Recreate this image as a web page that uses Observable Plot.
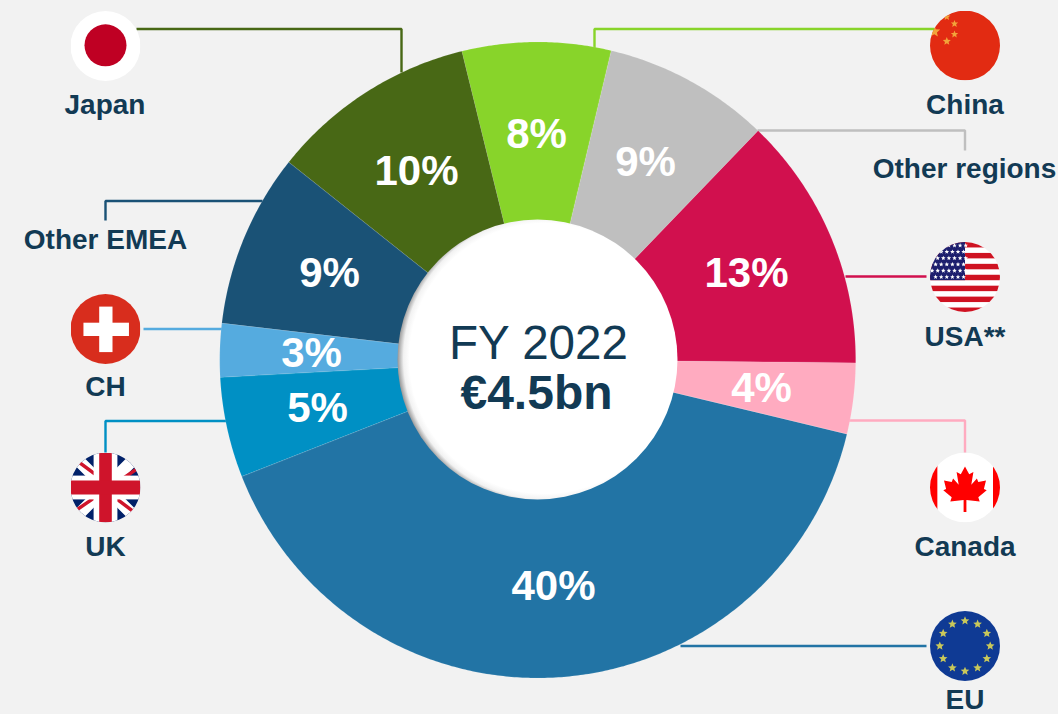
<!DOCTYPE html>
<html>
<head>
<meta charset="utf-8">
<script src="https://cdn.jsdelivr.net/npm/d3@7"></script>
<script src="https://cdn.jsdelivr.net/npm/@observablehq/plot@0.6"></script>
<style>
html,body{margin:0;padding:0;background:#f2f2f2;overflow:hidden}
svg{display:block;background:#f2f2f2}
</style>
</head>
<body>
<div id="chart"></div>
<script>
// ---------- chart values ----------
const regions = ["China","Other regions","USA**","Canada","EU","UK","CH","Other EMEA","Japan"];
const shares = [7.55,8.47,12.95,3.6,40.28,5.1,2.72,8.83,10.47];
const shareLabels = ["8%","9%","13%","4%","40%","5%","3%","9%","10%"];
const sliceColors = ["#88d42a","#bfbfbf","#d1104e","#ffabc0","#2274a5","#0090c4","#55abdf","#1a5276","#486815"];
const centerTitle = "FY 2022";
const centerValue = "€4.5bn";

// ---------- layout ----------
const W = 1058, H = 714;
const cx = 537.2, cy = 359.5, rOuter = 318, rInner = 120, startDeg = -13.8;
const ink = "#123a54";

const percentAt = [[536,134],[645,162],[746,273],[761,388],[553,586],[317,408],[311,353],[329,273],[416,171]];
const regionLabelAt = [[964.5,104.5],[964,168.5],[964.5,336.5],[964.5,546.5],[964.5,700],[105,546.5],[105,386.5],[105,240],[104.5,105]];
const leaderPaths = [
  [[594,48],[594,28.5],[934,28.5]],
  [[757,130],[964.5,130],[964.5,150]],
  [[845,276],[926,276]],
  [[848,420],[964.5,420],[964.5,452]],
  [[680,645.5],[926,645.5]],
  [[226,420.5],[105,420.5],[105,452]],
  [[222,328.5],[143,328.5]],
  [[262,200.5],[105,200.5],[105,220]],
  [[401,72],[401,28.5],[136,28.5]]
];
const flagAt = {"China":[964.5,45],"USA**":[964.5,276.5],"Canada":[964.5,487],"EU":[964.5,645.5],"UK":[105,487],"CH":[105,328.5],"Japan":[105,45.5]};

// ---------- flags (small inline SVG pictures) ----------
const star = (x,y,r,fill) => {
  const p = d3.range(10).map(i => {
    const a = -Math.PI/2 + i*Math.PI/5, q = i%2 ? r*0.45 : r;
    return `${(x+q*Math.cos(a)).toFixed(2)},${(y+q*Math.sin(a)).toFixed(2)}`;
  }).join(" ");
  return `<polygon points="${p}" fill="${fill}"/>`;
};
const leaf = "50,20 56,31 62,28 59,46 67,37 69,42 80,40 77,52 81,54 69,64 71,70 52,68 52,85 48,85 48,68 29,70 31,64 19,54 23,52 20,40 31,42 33,37 41,46 38,28 44,31";
const flagBodies = {
  "China": `<rect width="100" height="100" fill="#e22b12"/>` + [[24,9,5.5],[35,19,5.5],[35,34,5.5],[24,44,6],[6,30,9]].map(s=>star(s[0],s[1],s[2],"#f2a33a")).join(""),
  "USA**": `<rect width="100" height="100" fill="#fff"/>` +
     d3.range(7).map(i=>`<rect y="${i*15.6}" width="100" height="7.8" fill="#cf1322"/>`).join("") +
     `<rect width="50" height="54.5" fill="#1d1f6e"/>` +
     d3.range(6).flatMap(r=>d3.range(r%2?6:7).map(c=>star((r%2?8:3)+c*8,5+r*9,3.4,"#fff"))).join(""),
  "Canada": `<rect width="100" height="100" fill="#fff"/><rect width="10.5" height="100" fill="#f00"/><rect x="90" width="10" height="100" fill="#f00"/><polygon points="${leaf}" fill="#f00"/>`,
  "EU": `<rect width="100" height="100" fill="#0f3a94"/>` + d3.range(12).map(i=>star(50+36*Math.cos(i*Math.PI/6),50+36*Math.sin(i*Math.PI/6),6.5,"#c9c85a")).join(""),
  "UK": `<rect width="100" height="100" fill="#012169"/>
    <path d="M0 0L100 100M100 0L0 100" stroke="#fff" stroke-width="17"/>
    <path d="M0 5L50 42M100 20L62 46M0 88L38 62M55 58L100 92" stroke="#cf142b" stroke-width="5"/>
    <rect x="33" width="34" height="100" fill="#fff"/><rect y="33" width="100" height="34" fill="#fff"/>
    <rect x="41" width="18" height="100" fill="#cf142b"/><rect y="40" width="100" height="20" fill="#cf142b"/>`,
  "CH": `<rect width="100" height="100" fill="#d82d1d"/><rect x="41" y="18" width="19" height="65" fill="#fff"/><rect x="18.5" y="41" width="65" height="19" fill="#fff"/>`,
  "Japan": `<rect width="100" height="100" fill="#fff"/><circle cx="50" cy="49" r="30" fill="#bf0023"/>`
};
const flagUri = k => "data:image/svg+xml," + encodeURIComponent(`<svg xmlns="http://www.w3.org/2000/svg" width="100" height="100" viewBox="0 0 100 100">${flagBodies[k]}</svg>`);

// ---------- tables built from the arrays ----------
const pieArcs = d3.pie().sort(null).value(d=>d).startAngle(startDeg*Math.PI/180).endAngle((startDeg+360)*Math.PI/180)(shares);
const slicePts = pieArcs.flatMap((a,i) => {
  const n = Math.max(2, Math.ceil((a.endAngle-a.startAngle)/(Math.PI/360)));
  const outer = d3.range(n+1).map(k => a.startAngle + (a.endAngle-a.startAngle)*k/n);
  return [...outer.map(t=>[t,rOuter]), ...outer.slice().reverse().map(t=>[t,rInner])].map(([t,r]) => ({
    region: regions[i], x: cx + r*Math.sin(t), y: cy - r*Math.cos(t)
  }));
});
const leaders = leaderPaths.flatMap((path,i)=>path.map(p=>({region:regions[i], x:p[0], y:p[1]})));
const percents = regions.map((r,i)=>({label:shareLabels[i], x:percentAt[i][0], y:percentAt[i][1]}));
const regionLabels = regions.map((r,i)=>({label:r, x:regionLabelAt[i][0], y:regionLabelAt[i][1]}));
const flags = Object.keys(flagAt).map(k=>({src:flagUri(k), x:flagAt[k][0], y:flagAt[k][1]}));

const gradientDefs = () => {
  const ns = "http://www.w3.org/2000/svg";
  const defs = document.createElementNS(ns,"defs");
  defs.innerHTML = `<radialGradient id="holeShade" cx="0.525" cy="0.496" r="0.53">
    <stop offset="0.91" stop-color="#ffffff"/><stop offset="0.95" stop-color="#f2f2f2"/><stop offset="1" stop-color="#808080"/></radialGradient>`;
  return defs;
};

const chart = Plot.plot({
  width: W, height: H,
  margin: 0,
  style: {background:"#f2f2f2", fontFamily:"'Liberation Sans', Arial, sans-serif"},
  x: {domain:[0,W], range:[0,W], axis:null},
  y: {domain:[0,H], range:[0,H], axis:null},
  color: {domain:regions, range:sliceColors, legend:false},
  marks: [
    gradientDefs,
    Plot.line(leaders, {x:"x", y:"y", z:"region", stroke:"region", strokeWidth:2.4, curve:"linear", strokeLinejoin:"miter", strokeLinecap:"butt"}),
    Plot.line(slicePts, {x:"x", y:"y", z:"region", fill:"region", stroke:"#ffffff", strokeOpacity:0.2, strokeWidth:0.5, curve:"linear-closed"}),
    Plot.dot([{x:537,y:359}], {x:"x", y:"y", r:140, fill:"url(#holeShade)", stroke:"none"}),
    Plot.image(flags, {x:"x", y:"y", src:"src", width:70, height:70, r:35}),
    Plot.text(percents, {x:"x", y:"y", text:"label", fill:"#ffffff", fontWeight:"bold", fontSize:42, textAnchor:"middle", lineAnchor:"middle"}),
    Plot.text(regionLabels, {x:"x", y:"y", text:"label", fill:ink, fontWeight:"bold", fontSize:28, textAnchor:"middle", lineAnchor:"middle"}),
    Plot.text([centerTitle], {x:()=>538, y:()=>343, text:d=>d, fill:ink, fontSize:47.6, textAnchor:"middle", lineAnchor:"middle"}),
    Plot.text([centerValue], {x:()=>536, y:()=>393, text:d=>d, fill:ink, fontWeight:"bold", fontSize:48, textAnchor:"middle", lineAnchor:"middle"})
  ]
});
document.getElementById("chart").appendChild(chart);
</script>
</body>
</html>
